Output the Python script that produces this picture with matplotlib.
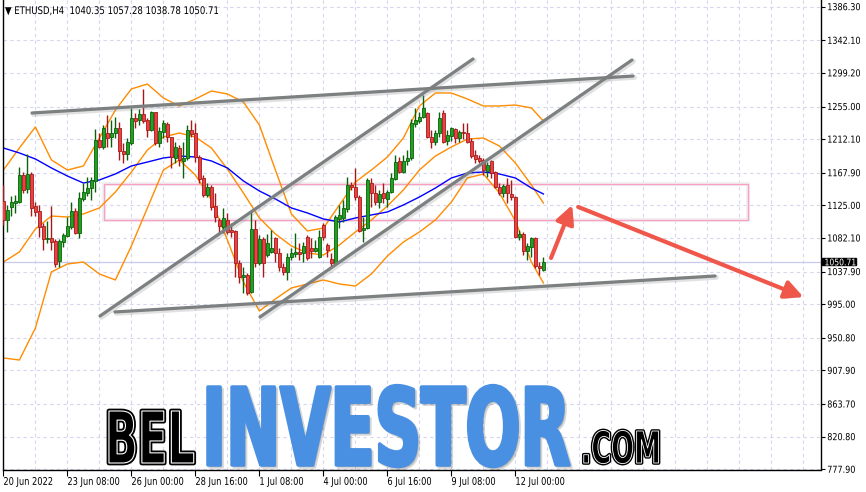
import numpy as np
import matplotlib

matplotlib.use("Agg")
import matplotlib.pyplot as plt
import matplotlib.patheffects as pe
from matplotlib import colors as mcolors
from matplotlib.patches import Rectangle, FancyArrowPatch, ArrowStyle
from matplotlib.transforms import Affine2D, blended_transform_factory

# ---- ETHUSD H4 candles, bar 0 = 20 Jun 16:00 ----
opens = [1130.8, 1105.8, 1122.9, 1128.1, 1129.4, 1165.0, 1146.5, 1166.3, 1124.2, 1117.6,
         1097.9, 1080.8, 1082.1, 1078.1, 1051.8, 1076.8, 1084.7, 1096.6, 1117.6, 1088.7,
         1133.4, 1141.3, 1147.8, 1157.1, 1211.0, 1201.8, 1220.2, 1214.9, 1220.2, 1226.8,
         1196.5, 1192.6, 1207.0, 1239.9, 1237.3, 1245.2, 1237.3, 1224.1, 1247.8, 1207.0,
         1221.5, 1232.0, 1214.9, 1187.3, 1200.5, 1183.4, 1187.3, 1224.1, 1220.2, 1188.6,
         1161.0, 1138.7, 1149.2, 1124.2, 1105.8, 1096.6, 1105.8, 1092.6, 1091.3, 1049.2,
         1030.8, 1033.4, 1011.1, 1093.9, 1049.2, 1080.8, 1059.7, 1063.7, 1082.1, 1062.4,
         1044.0, 1037.4, 1057.1, 1061.1, 1063.7, 1062.4, 1083.4, 1069.0, 1065.0, 1057.1,
         1099.2, 1072.9, 1054.5, 1049.2, 1107.1, 1108.4, 1120.2, 1151.8, 1149.2, 1136.0,
         1092.6, 1095.2, 1154.4, 1141.3, 1129.4, 1141.3, 1133.4, 1142.6, 1159.7, 1183.4,
         1168.9, 1183.4, 1187.3, 1232.0, 1236.0, 1241.2, 1246.5, 1214.9, 1208.4, 1220.2,
         1246.5, 1209.7, 1216.2, 1225.4, 1213.6, 1221.5, 1220.2, 1209.7, 1191.2, 1187.3,
         1184.7, 1170.2, 1183.4, 1168.9, 1149.2, 1141.3, 1151.8, 1140.0, 1136.0, 1083.4,
         1087.4, 1065.0, 1070.3, 1082.1, 1045.3, 1040.35]
highs = [1151.8, 1125.5, 1137.3, 1138.7, 1175.5, 1168.9, 1192.6, 1168.9, 1129.4, 1125.5,
         1101.8, 1104.5, 1124.2, 1080.8, 1080.8, 1088.7, 1109.7, 1129.4, 1121.5, 1142.6,
         1154.4, 1162.3, 1162.3, 1225.4, 1220.2, 1230.7, 1243.9, 1237.3, 1241.2, 1234.7,
         1207.0, 1213.6, 1253.1, 1246.5, 1251.8, 1278.0, 1239.9, 1249.1, 1248.0, 1228.1,
         1237.3, 1234.7, 1215.5, 1208.4, 1204.4, 1208.4, 1230.7, 1237.3, 1233.4, 1191.2,
         1165.0, 1154.4, 1151.8, 1141.3, 1108.4, 1121.6, 1115.0, 1101.8, 1092.6, 1053.2,
         1043.9, 1036.1, 1118.9, 1105.8, 1086.0, 1083.4, 1087.4, 1092.6, 1083.4, 1069.0,
         1049.2, 1062.4, 1069.0, 1088.7, 1075.5, 1076.8, 1086.0, 1082.1, 1079.5, 1092.6,
         1101.8, 1075.5, 1062.4, 1112.4, 1125.5, 1132.1, 1162.3, 1155.7, 1174.2, 1138.7,
         1109.7, 1161.0, 1161.0, 1151.8, 1145.2, 1154.4, 1145.2, 1167.6, 1191.2, 1188.6,
         1191.2, 1197.8, 1238.6, 1253.1, 1247.8, 1270.2, 1247.8, 1224.1, 1224.1, 1247.8,
         1250.4, 1224.1, 1228.1, 1226.8, 1224.1, 1233.4, 1233.4, 1213.6, 1197.8, 1191.2,
         1187.3, 1182.0, 1184.7, 1170.2, 1154.4, 1153.1, 1161.0, 1158.4, 1137.3, 1092.6,
         1090.0, 1075.5, 1083.4, 1083.4, 1050.5, 1057.28]
lows = [1099.2, 1090.0, 1111.0, 1115.0, 1128.1, 1141.3, 1141.3, 1111.0, 1111.0, 1083.4,
        1066.3, 1075.5, 1066.3, 1043.9, 1043.9, 1070.3, 1083.4, 1093.9, 1087.4, 1082.1,
        1130.8, 1137.3, 1132.1, 1142.6, 1200.5, 1199.1, 1201.8, 1201.8, 1213.6, 1184.7,
        1180.7, 1184.7, 1204.4, 1226.8, 1230.7, 1233.4, 1214.9, 1222.8, 1204.4, 1201.8,
        1213.6, 1208.4, 1174.2, 1180.7, 1176.8, 1161.0, 1184.7, 1214.9, 1182.0, 1154.4,
        1136.0, 1136.0, 1118.9, 1103.1, 1088.7, 1088.7, 1087.4, 1083.4, 1030.8, 1022.9,
        1009.8, 1007.1, 1009.8, 1043.9, 1046.6, 1030.8, 1057.1, 1062.4, 1050.5, 1038.7,
        1033.4, 1026.9, 1053.2, 1057.1, 1053.2, 1050.5, 1053.2, 1055.8, 1063.7, 1055.8,
        1079.5, 1057.1, 1043.9, 1049.2, 1095.2, 1103.1, 1116.3, 1145.2, 1132.1, 1090.0,
        1076.8, 1093.9, 1122.9, 1125.5, 1121.6, 1128.1, 1122.9, 1141.3, 1158.4, 1167.6,
        1167.6, 1178.1, 1184.7, 1228.1, 1233.4, 1239.9, 1213.6, 1200.5, 1204.4, 1214.9,
        1207.0, 1204.4, 1209.7, 1207.0, 1208.4, 1212.3, 1207.0, 1187.3, 1180.7, 1180.7,
        1165.0, 1162.3, 1161.0, 1147.8, 1138.7, 1136.0, 1128.1, 1132.1, 1082.1, 1079.5,
        1059.7, 1053.2, 1057.1, 1042.6, 1033.4, 1038.78]
closes = [1105.8, 1118.9, 1129.4, 1130.8, 1165.0, 1145.2, 1166.3, 1121.6, 1116.3, 1096.6,
          1080.8, 1082.1, 1076.8, 1047.9, 1078.1, 1086.0, 1097.9, 1117.6, 1088.7, 1134.7,
          1142.6, 1147.8, 1158.4, 1211.0, 1201.8, 1226.8, 1213.6, 1220.2, 1226.8, 1196.5,
          1192.6, 1208.4, 1239.9, 1236.0, 1245.2, 1236.0, 1224.1, 1247.8, 1207.0, 1222.8,
          1233.4, 1214.9, 1188.6, 1201.8, 1184.7, 1187.3, 1224.1, 1218.9, 1188.6, 1159.7,
          1138.7, 1149.2, 1122.9, 1109.7, 1097.9, 1108.4, 1090.0, 1090.0, 1049.2, 1030.8,
          1033.4, 1009.8, 1093.9, 1049.2, 1080.8, 1049.2, 1075.5, 1069.0, 1062.4, 1044.0,
          1037.4, 1057.1, 1062.4, 1063.7, 1061.1, 1071.6, 1055.8, 1065.0, 1069.0, 1083.4,
          1083.4, 1066.3, 1049.2, 1109.7, 1112.4, 1121.5, 1151.8, 1149.2, 1136.0, 1091.3,
          1095.2, 1158.4, 1141.3, 1129.4, 1140.0, 1134.7, 1142.6, 1161.0, 1182.0, 1168.9,
          1183.4, 1187.3, 1233.4, 1237.3, 1241.2, 1253.1, 1214.9, 1208.4, 1220.2, 1239.9,
          1208.4, 1217.6, 1226.8, 1213.6, 1221.5, 1220.2, 1208.4, 1189.9, 1186.0, 1183.4,
          1171.5, 1178.1, 1167.6, 1149.2, 1141.3, 1150.5, 1141.3, 1136.0, 1083.4, 1087.4,
          1065.0, 1071.6, 1082.1, 1045.3, 1042.6, 1050.71]

# ---- indicator lines, read every 4 bars ----
band_idx = [0, 4, 8, 12, 16, 20, 24, 28, 32, 36, 40, 44, 48, 52, 56, 60, 64, 68, 72, 76,
            80, 84, 88, 92, 96, 100, 104, 108, 112, 116, 120, 124, 128, 132, 135]
bb_upper = [1171.5, 1200.5, 1228.1, 1184.7, 1171.5, 1176.8, 1213.6, 1250.4, 1278.1, 1284.6,
            1266.2, 1255.7, 1264.9, 1275.4, 1271.5, 1261.0, 1230.7, 1171.5, 1113.7, 1091.3,
            1095.2, 1125.5, 1155.7, 1171.5, 1188.6, 1213.6, 1255.7, 1272.8, 1272.8, 1264.9,
            1255.7, 1255.7, 1257.0, 1253.1, 1236.0]
bb_mid = [1050.5, 1063.7, 1093.9, 1111.0, 1109.7, 1113.7, 1121.6, 1142.6, 1168.9, 1197.8,
          1214.9, 1220.2, 1214.9, 1200.5, 1172.8, 1141.3, 1108.4, 1087.4, 1071.6, 1062.4,
          1059.7, 1072.9, 1090.0, 1105.8, 1124.2, 1145.2, 1171.5, 1189.9, 1201.8, 1212.3,
          1213.6, 1203.1, 1180.7, 1151.8, 1128.1]
bb_lower = [924.3, 921.6, 963.7, 1037.4, 1047.9, 1050.5, 1034.7, 1026.9, 1071.6, 1121.6,
            1171.5, 1184.7, 1164.9, 1132.1, 1079.5, 1024.2, 986.1, 1001.9, 1016.3, 1021.6,
            1026.9, 1021.6, 1018.9, 1034.7, 1058.4, 1076.8, 1090.0, 1105.8, 1129.4, 1161.0,
            1166.3, 1141.3, 1104.5, 1050.5, 1022.9]
ma_blue = [1200.5, 1193.9, 1186.0, 1174.2, 1163.6, 1154.4, 1158.4, 1166.3, 1176.8, 1182.0,
           1187.3, 1189.9, 1188.6, 1183.4, 1174.2, 1157.1, 1143.9, 1133.4, 1121.6, 1115.0,
           1107.1, 1103.1, 1108.4, 1112.4, 1116.3, 1125.5, 1136.0, 1147.8, 1161.0, 1167.6,
           1168.9, 1166.3, 1161.0, 1147.8, 1140.0]

# ---- drawings (bar index, price) ----
trend_x = [(7.15, 157.4), (24.15, 117.4), (64.15, 157.15), (27.9, 177.9)]
trend_p = [(1246.5, 1295.1), (979.5, 1317.5), (978.2, 1316.2), (984.8, 1032.1)]
zone_x = (25.15, 186.15)
zone_p = (1105.8, 1153.1)
arrow_x = [(136.9, 142.2), (143.7, 200.0)]
arrow_p = [(1055.8, 1125.5), (1122.9, 1004.5)]

price_ticks = [1386.30, 1342.10, 1299.20, 1255.00, 1212.10, 1167.90, 1125.00, 1082.10,
               1037.90, 995.00, 950.80, 907.90, 863.70, 820.80, 777.90]
date_idx = [0, 16, 32, 48, 64, 80, 96, 112, 128]
date_labels = ["20 Jun 2022", "23 Jun 08:00", "26 Jun 00:00", "28 Jun 16:00", "1 Jul 08:00",
               "4 Jul 00:00", "6 Jul 16:00", "9 Jul 08:00", "12 Jul 00:00"]
header = "\u25bc ETHUSD,H4  1040.35 1057.28 1038.78 1050.71"
last_price = 1050.71


class Squeeze(pe.AbstractPathEffect):
    """Scale text paths about their baseline origin (no narrow font installed)."""

    def __init__(self, sx=1.0, sy=1.0, edge=None, lw=0.0, face=None, shift=(0, 0)):
        super().__init__()
        self.sx, self.sy = sx, sy
        self.edge, self.lw, self.face, self.shift = edge, lw, face, shift

    def draw_path(self, renderer, gc, tpath, affine, rgbFace=None):
        aff = Affine2D().scale(self.sx, self.sy) + affine + Affine2D().translate(*self.shift)
        gc0 = renderer.new_gc()
        gc0.copy_properties(gc)
        if self.edge is not None:
            gc0.set_foreground(self.edge)
            gc0.set_linewidth(self.lw)
        else:
            gc0.set_linewidth(0)
        face = rgbFace if self.face is None else mcolors.to_rgba(self.face)
        renderer.draw_path(gc0, tpath, aff, face)
        gc0.restore()


W, H = 866, 492
fig = plt.figure(figsize=(W / 100, H / 100), dpi=100)
fig.patch.set_facecolor("white")
ax = fig.add_axes([2.5 / W, (H - 469.5) / H, (821 - 2.5) / W, 469.5 / H])
ax.set_xlim(-0.225, 204.4)
ax.set_ylim(777.6, 1395.1)

# grid
grid_kw = dict(color="#d6d6ee", linestyle=(0, (3, 3)), linewidth=0.8)
ax.set_xticks(date_idx)
ax.set_xticklabels(date_labels)
ax.set_xticks(np.arange(0, 204, 8), minor=True)
ax.xaxis.remove_overlapping_locs = False
ax.set_yticks(price_ticks)
ax.set_yticklabels([f"{v:.2f}" for v in price_ticks])
ax.yaxis.tick_right()
ax.xaxis.grid(True, which="minor", **grid_kw)
ax.yaxis.grid(True, which="major", **grid_kw)
ax.set_axisbelow(True)
ax.tick_params(axis="x", which="major", direction="out", length=4, width=0.8, pad=2,
               labelsize=6.6, colors="black")
ax.tick_params(axis="x", which="minor", length=0)
ax.tick_params(axis="y", which="major", direction="out", length=3, width=0.8, pad=1.5,
               labelsize=6.3, colors="black")
for lbl in ax.get_xticklabels():
    lbl.set_ha("left")
for side in ("left", "bottom", "right"):
    ax.spines[side].set_color("black")
    ax.spines[side].set_linewidth(1)
ax.spines["top"].set_visible(False)

# current price line
ax.axhline(last_price, color="#c8c8ea", lw=0.9, zorder=1)

# zone
zone = Rectangle((zone_x[0], zone_p[0]), zone_x[1] - zone_x[0], zone_p[1] - zone_p[0],
                 fill=False, ec="#f7a0c4", lw=1.0, zorder=1.5,
                 path_effects=[pe.Stroke(linewidth=3, foreground="#f1f1f1"), pe.Normal()])
ax.add_patch(zone)

# bands + moving average
ax.plot(band_idx, bb_upper, color="#ff8c00", lw=1.0, zorder=2)
ax.plot(band_idx, bb_mid, color="#ff8c00", lw=1.0, zorder=2)
ax.plot(band_idx, bb_lower, color="#ff8c00", lw=1.0, zorder=2)
ax.plot(band_idx, ma_blue, color="#0000ff", lw=1.0, zorder=2)

# candles
o = np.array(opens)
c = np.array(closes)
idx = np.arange(len(o))
up = c >= o
edge = np.where(up, "#0b610b", "#a81818")
fill = np.where(up, "#22a022", "#e64444")
ax.vlines(idx, lows, highs, colors=edge, lw=1.0, zorder=3)
ax.bar(idx, np.maximum(np.abs(c - o), 0.4), bottom=np.minimum(o, c), width=0.72,
       color=fill, edgecolor=edge, linewidth=0.6, zorder=4)

# trend lines
shadow = [pe.SimpleLineShadow(offset=(1.0, -1.0), shadow_color="#777777", alpha=0.22,
                              linewidth=3.5), pe.Normal()]
for tx, tp in zip(trend_x, trend_p):
    ax.plot(tx, tp, color="#7c8080", lw=2.3, solid_capstyle="round", zorder=5,
            path_effects=shadow)

# arrows
for axx, app in zip(arrow_x, arrow_p):
    arr = FancyArrowPatch((axx[0], app[0]), (axx[1], app[1]),
                          arrowstyle=ArrowStyle("-|>", head_length=1.1, head_width=0.55),
                          mutation_scale=10, color="#f0574b", lw=3, shrinkA=0, shrinkB=0,
                          zorder=6,
                          path_effects=[pe.SimplePatchShadow(offset=(1.5, -1.5), alpha=0.25),
                                        pe.Normal()])
    ax.add_patch(arr)

# last price box
bt = blended_transform_factory(ax.transAxes, ax.transData)
ax.add_patch(Rectangle((1.0 + 1.5 / 818.5, last_price - 4.8), 34 / 818.5, 9.4,
                       transform=bt, color="black", clip_on=False, zorder=7))
price_txt = ax.text(1.0 + 3.5 / 818.5, last_price, f"{last_price:.2f}", transform=bt,
                    ha="left", va="center_baseline", color="white", fontsize=6.0, zorder=8)

# header
head = fig.text(5 / W, 1 - 14 / H, header, ha="left", va="baseline", fontsize=7.6,
                color="black")

# watermark
wm_inv = fig.text(202 / W, 1 - 465 / H, "INVESTOR", ha="left", va="baseline",
                  fontsize=40, fontweight="bold", color="#4a90e2")
wm_bel = fig.text(105 / W, 1 - 463 / H, "BEL", ha="left", va="baseline",
                  fontsize=30, fontweight="bold", color="black")
wm_com = fig.text(581 / W, 1 - 463 / H, ".COM", ha="left", va="baseline",
                  fontsize=20, fontweight="bold", color="black")

renderer = fig.canvas.get_renderer()


def fit_box(txt, width, cap_px):
    """Pick a font size that gives `width`, then stretch vertically to `cap_px`."""
    fs = txt.get_fontsize()
    w = txt.get_window_extent(renderer).width
    fs = fs * width / w
    txt.set_fontsize(fs)
    return cap_px / (0.729 * fs * 100 / 72)


sy = fit_box(wm_inv, 368, 78)
wm_inv.set_path_effects([Squeeze(sy=sy, face=(0, 0, 0, 0.16), edge=(0, 0, 0, 0.16), lw=2.5,
                                 shift=(2, -2)),
                         Squeeze(sy=sy, edge="#4a90e2", lw=2.5)])
sy = fit_box(wm_bel, 90, 52)
wm_bel.set_path_effects([Squeeze(sy=sy, edge="black", lw=3.4, face="black"),
                         Squeeze(sy=sy, edge="white", lw=0.8, face="black")])
sy = fit_box(wm_com, 80, 32)
wm_com.set_path_effects([Squeeze(sy=sy, edge="black", lw=2.6, face="black"),
                         Squeeze(sy=sy, edge="white", lw=0.6, face="black")])
hw = head.get_window_extent(renderer).width
head.set_path_effects([Squeeze(sx=213 / hw)])
price_txt.set_path_effects([Squeeze(sx=0.92, sy=1.1)])

fig.canvas.draw()
for lbl in ax.xaxis.get_ticklabels():
    lbl.set_path_effects([Squeeze(sx=0.9, sy=1.15)])
for lbl in ax.yaxis.get_ticklabels():
    lbl.set_path_effects([Squeeze(sx=0.92, sy=1.1)])

fig.savefig("out.png", dpi=100)
plt.close(fig)
